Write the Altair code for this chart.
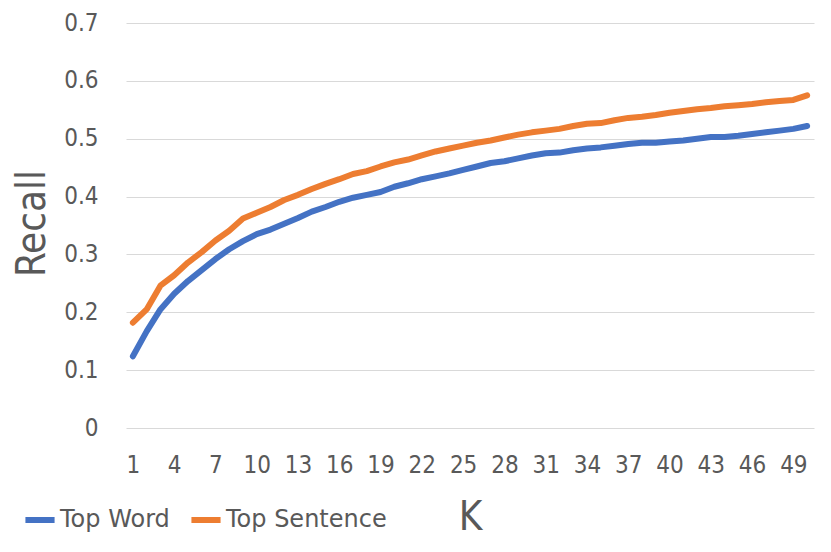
import altair as alt
import pandas as pd

k_values = list(range(1, 51))
top_word = [0.124, 0.167, 0.205, 0.232, 0.254, 0.273, 0.292, 0.309, 0.323, 0.335,
            0.343, 0.353, 0.363, 0.374, 0.382, 0.391, 0.398, 0.403, 0.408, 0.417,
            0.423, 0.430, 0.435, 0.440, 0.446, 0.452, 0.458, 0.461, 0.466, 0.471,
            0.475, 0.476, 0.480, 0.483, 0.485, 0.488, 0.491, 0.493, 0.493, 0.495,
            0.497, 0.500, 0.503, 0.503, 0.505, 0.508, 0.511, 0.514, 0.517, 0.522]
top_sentence = [0.182, 0.205, 0.246, 0.264, 0.286, 0.304, 0.324, 0.341, 0.362, 0.372,
                0.382, 0.394, 0.403, 0.413, 0.422, 0.430, 0.439, 0.444, 0.452, 0.459,
                0.464, 0.471, 0.478, 0.483, 0.488, 0.493, 0.497, 0.502, 0.507, 0.511,
                0.514, 0.517, 0.522, 0.526, 0.527, 0.532, 0.536, 0.538, 0.541, 0.545,
                0.548, 0.551, 0.553, 0.556, 0.558, 0.560, 0.563, 0.565, 0.567, 0.575]
series_names = ["Top Word", "Top Sentence"]
series_colors = ["#4472C4", "#ED7D31"]
x_ticks = list(range(1, 50, 3))
y_ticks = [0, 0.1, 0.2, 0.3, 0.4, 0.5, 0.6, 0.7]

df = pd.DataFrame({
    "K": k_values * 2,
    "Recall": top_word + top_sentence,
    "Series": [series_names[0]] * 50 + [series_names[1]] * 50,
})

FONT = "DejaVu Sans Condensed, Lato, sans-serif"
LFONT = "DejaVu Sans, sans-serif"
TXT = "#595959"

chart = alt.Chart(df).mark_line(strokeWidth=6, strokeCap="round", strokeJoin="round").encode(
    x=alt.X("K:Q",
            scale=alt.Scale(domain=[0.5, 50.5], nice=False, zero=False),
            axis=alt.Axis(values=x_ticks, title="K", grid=False, domain=False, ticks=False,
                          labelFontSize=24, labelColor=TXT, labelFont=FONT, labelPadding=25,
                          titleFontSize=40, titleColor=TXT, titleFont=FONT, titleFontWeight="normal",
                          titleY=101, titleBaseline="alphabetic")),
    y=alt.Y("Recall:Q",
            scale=alt.Scale(domain=[0, 0.7], nice=False),
            axis=alt.Axis(values=y_ticks, title="Recall", grid=True, gridColor="#d9d9d9",
                          domain=False, ticks=False, labelFontSize=24, labelColor=TXT,
                          labelFont=FONT, labelPadding=28, labelFlush=False,
                          format="~g",
                          titleFontSize=40, titleColor=TXT, titleFont=FONT, titleFontWeight="normal",
                          titleAngle=-90, titleX=-94, titleY=200, titleAlign="center",
                          titleBaseline="middle")),
    color=alt.Color("Series:N",
                    scale=alt.Scale(domain=series_names, range=series_colors),
                    sort=series_names,
                    legend=alt.Legend(title=None, orient="none", legendX=-104, legendY=479,
                                      padding=0, direction="horizontal", symbolType="stroke",
                                      symbolStrokeWidth=6, symbolSize=850,
                                      labelFontSize=24, labelColor=TXT, labelFont=LFONT,
                                      labelLimit=400, labelOffset=2, columnPadding=9)),
).properties(
    width=688, height=405,
    autosize=alt.AutoSizeParams(type="none"),
    padding={"left": 118, "top": 15, "right": 9, "bottom": 116},
).configure_view(stroke=None)

chart.save("out.html", embed_options={"renderer": "svg", "actions": False})
